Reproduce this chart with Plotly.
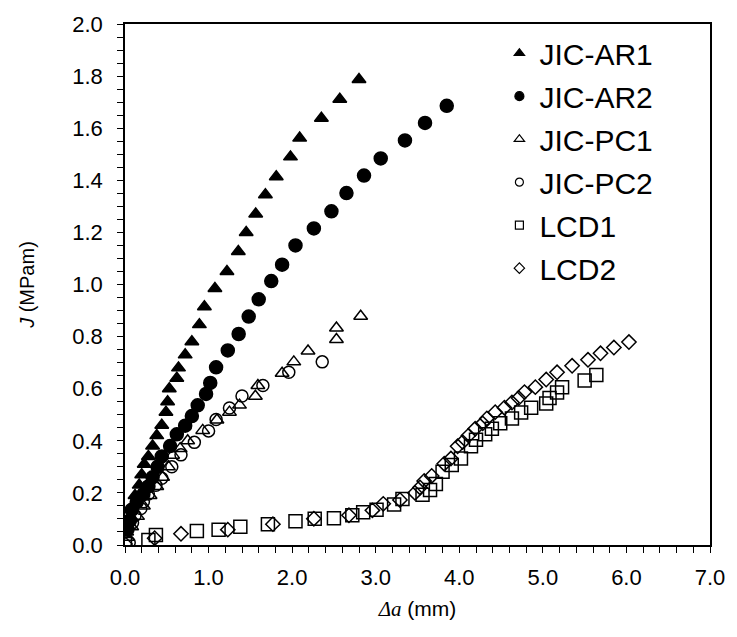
import plotly.graph_objects as go

# JIC-AR1 (filled triangles)
ar1_x = [0.02, 0.05, 0.08, 0.12, 0.17, 0.20, 0.23, 0.28, 0.33, 0.38, 0.44, 0.49, 0.51, 0.53, 0.62, 0.64, 0.72, 0.80, 0.89, 0.95, 1.076, 1.22, 1.356, 1.45, 1.564, 1.68, 1.81, 1.98, 2.09, 2.35, 2.57, 2.80]
ar1_y = [0.05, 0.10, 0.14, 0.19, 0.23, 0.27, 0.31, 0.34, 0.38, 0.42, 0.46, 0.51, 0.55, 0.60, 0.64, 0.68, 0.73, 0.78, 0.846, 0.915, 0.985, 1.05, 1.127, 1.20, 1.271, 1.345, 1.414, 1.49, 1.562, 1.638, 1.711, 1.787]

# JIC-AR2 (filled circles)
ar2_x = [0.03, 0.06, 0.08, 0.14, 0.22, 0.28, 0.33, 0.39, 0.44, 0.54, 0.62, 0.72, 0.80, 0.87, 0.97, 1.02, 1.09, 1.23, 1.36, 1.48, 1.60, 1.75, 1.88, 2.04, 2.26, 2.47, 2.65, 2.86, 3.06, 3.35, 3.59, 3.85]
ar2_y = [0.06, 0.095, 0.135, 0.165, 0.195, 0.225, 0.26, 0.30, 0.34, 0.38, 0.425, 0.458, 0.495, 0.536, 0.58, 0.622, 0.682, 0.747, 0.81, 0.877, 0.943, 1.013, 1.076, 1.15, 1.215, 1.281, 1.351, 1.418, 1.484, 1.553, 1.62, 1.686]

# JIC-PC1 (open triangles)
pc1_x = [0.03, 0.08, 0.15, 0.22, 0.30, 0.38, 0.45, 0.52, 0.57, 0.66, 0.75, 0.93, 1.10, 1.25, 1.37, 1.56, 1.59, 1.88, 2.02, 2.19, 2.53, 2.53, 2.82]
pc1_y = [0.03, 0.07, 0.11, 0.15, 0.19, 0.225, 0.26, 0.30, 0.345, 0.37, 0.40, 0.44, 0.48, 0.51, 0.537, 0.571, 0.612, 0.659, 0.703, 0.745, 0.789, 0.833, 0.878]

# JIC-PC2 (open circles)
pc2_x = [0.05, 0.09, 0.12, 0.19, 0.22, 0.28, 0.37, 0.44, 0.56, 0.67, 0.83, 1.00, 1.09, 1.25, 1.40, 1.65, 1.96, 2.36]
pc2_y = [0.01, 0.085, 0.113, 0.14, 0.166, 0.196, 0.229, 0.256, 0.30, 0.346, 0.394, 0.438, 0.482, 0.526, 0.572, 0.612, 0.663, 0.703]

# LCD1 (open squares)
lcd1_x = [0.0, 0.28, 0.37, 0.86, 1.12, 1.38, 1.71, 2.04, 2.27, 2.50, 2.72, 2.85, 3.01, 3.22, 3.32, 3.56, 3.65, 3.72, 3.80, 3.91, 4.02, 4.14, 4.20, 4.31, 4.39, 4.49, 4.63, 4.74, 4.86, 5.04, 5.08, 5.17, 5.23, 5.50, 5.64]
lcd1_y = [0.004, 0.019, 0.038, 0.054, 0.059, 0.07, 0.08, 0.091, 0.101, 0.103, 0.114, 0.126, 0.135, 0.155, 0.177, 0.193, 0.211, 0.234, 0.281, 0.307, 0.332, 0.379, 0.404, 0.425, 0.446, 0.467, 0.486, 0.509, 0.527, 0.543, 0.564, 0.585, 0.606, 0.631, 0.653]

# LCD2 (open diamonds)
lcd2_x = [0.0, 0.355, 0.67, 1.23, 1.77, 2.26, 2.68, 2.96, 3.09, 3.29, 3.47, 3.53, 3.58, 3.67, 3.82, 3.90, 3.98, 4.04, 4.11, 4.19, 4.28, 4.33, 4.43, 4.54, 4.63, 4.71, 4.78, 4.91, 5.04, 5.17, 5.35, 5.54, 5.69, 5.85, 6.03]
lcd2_y = [0.004, 0.026, 0.043, 0.059, 0.08, 0.101, 0.114, 0.133, 0.158, 0.173, 0.20, 0.221, 0.246, 0.265, 0.312, 0.332, 0.379, 0.395, 0.42, 0.446, 0.467, 0.486, 0.51, 0.527, 0.547, 0.564, 0.587, 0.606, 0.635, 0.663, 0.688, 0.711, 0.736, 0.758, 0.779]

names = ["JIC-AR1", "JIC-AR2", "JIC-PC1", "JIC-PC2", "LCD1", "LCD2"]
xs = [ar1_x, ar2_x, pc1_x, pc2_x, lcd1_x, lcd2_x]
ys = [ar1_y, ar2_y, pc1_y, pc2_y, lcd1_y, lcd2_y]
symbols = ["triangle-up", "circle", "triangle-up-open", "circle-open", "square-open", "diamond-open"]
sizes = [12, 13, 12, 12, 13, 11]
leg_sizes = [9, 9, 9, 8, 8, 8]

FONT = "Arial, Liberation Sans, sans-serif"

fig = go.Figure()
for n, x, y, s, sz in zip(names, xs, ys, symbols, sizes):
    fig.add_trace(go.Scatter(
        x=x, y=y, mode="markers", name=n, showlegend=False,
        marker=dict(symbol=s, size=sz, color="black", line=dict(color="black", width=1.5)),
    ))
# legend entries (smaller symbols, as in the original)
for i, (n, s, sz) in enumerate(zip(names, symbols, leg_sizes)):
    fig.add_trace(go.Scatter(
        x=[None], y=[None], mode="markers", name=n, legendgroup=f"g{i}",
        marker=dict(symbol=s, size=sz, color="black", line=dict(color="black", width=1.2)),
    ))

axis_common = dict(
    showline=True, linecolor="black", linewidth=1.5, mirror=True,
    ticks="outside", ticklen=6, tickwidth=1.2, tickcolor="black",
    showgrid=False, zeroline=False,
    tickfont=dict(family=FONT, size=22, color="black"),
)

fig.update_layout(
    width=737, height=637,
    margin=dict(l=125, r=21, t=17, b=92),
    plot_bgcolor="white", paper_bgcolor="white",
    font=dict(family=FONT, color="black"),
    xaxis=dict(
        range=[0, 7], dtick=1, tickformat=".1f", ticklabelstandoff=6,
        minor=dict(dtick=0.2, ticks="outside", ticklen=6, tickcolor="black", tickwidth=1.2),
        title=dict(text='<span style="font-family:Times New Roman, Liberation Serif, serif"><i>Δa</i></span> (mm)',
                   font=dict(family=FONT, size=21, color="black"), standoff=12),
        **axis_common,
    ),
    yaxis=dict(
        range=[0, 2], dtick=0.2, tickformat=".1f", ticklabelstandoff=10,
        minor=dict(dtick=0.05, ticks="outside", ticklen=6, tickcolor="black", tickwidth=1.2),
        title=dict(text="<i>J</i> (MPam)", font=dict(family=FONT, size=20, color="black"), standoff=32),
        **axis_common,
    ),
    legend=dict(
        x=0.64, y=0.994, xanchor="left", yanchor="top",
        font=dict(family=FONT, size=30, color="black"),
        bgcolor="rgba(0,0,0,0)", tracegroupgap=1,
        itemsizing="trace",
    ),
)

fig.write_html("out.html", config={"displayModeBar": False},
               post_script="document.body.style.margin='0';")
